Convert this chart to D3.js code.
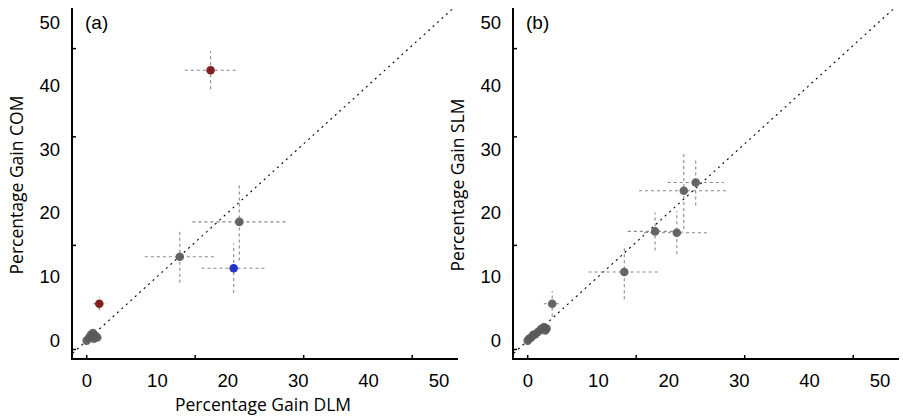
<!DOCTYPE html>
<html>
<head>
<meta charset="utf-8">
<script src="https://cdn.jsdelivr.net/npm/d3@7"></script>
<style>
  body { margin: 0; background: #fff; }
  svg { display: block; }
</style>
</head>
<body>
<svg id="chart" width="903" height="420"></svg>
<script>
// tick labels and (odd) inward tick mark positions
var tickLabels = [0, 10, 20, 30, 40, 50];
var xTickMarks = [0, 15.5, 31, 46.5];
var yTickMarks = [-1.4, 15.0, 32.1, 46.0];

// panel (a): DLM vs COM
var comX    = [0.0, 0.3, 0.6, 0.9, 1.2, 1.0, 1.5, 1.8, 17.7, 13.3, 21.8, 21.0];
var comY    = [0.0, 0.4, 0.9, 1.2, 0.8, 0.3, 0.5, 5.8, 42.6, 13.2, 18.7, 11.4];
var comXErr = [0.3, 0.4, 0.3, 0.5, 0.6, 0.4, 0.6, 0.9, 3.7, 5.0, 6.7, 4.6];
var comYErr = [0.3, 0.3, 0.4, 0.4, 0.3, 0.3, 0.4, 1.0, 3.0, 4.1, 6.1, 3.9];
var comGroup = ['g', 'g', 'g', 'g', 'g', 'g', 'g', 'r', 'r', 'g', 'g', 'b'];

// panel (b): DLM vs SLM
var slmX    = [0.0, 0.2, 0.5, 0.8, 1.1, 1.5, 1.9, 2.3, 2.7, 2.5, 3.5, 13.8, 18.2, 21.3, 22.3, 24.0];
var slmY    = [0.0, 0.3, 0.5, 0.9, 1.0, 1.4, 1.8, 2.1, 1.9, 1.6, 5.8, 10.8, 17.2, 17.0, 23.6, 24.9];
var slmXErr = [0.3, 0.3, 0.4, 0.4, 0.5, 0.5, 0.6, 0.7, 0.8, 0.6, 1.2, 5.1, 3.9, 4.7, 6.4, 4.0];
var slmYErr = [0.3, 0.3, 0.3, 0.4, 0.4, 0.5, 0.5, 0.6, 0.6, 0.5, 2.0, 4.3, 3.0, 3.4, 6.0, 3.6];
var slmGroup = ['g', 'g', 'g', 'g', 'g', 'g', 'g', 'g', 'g', 'g', 'g', 'g', 'g', 'g', 'g', 'g'];

var colors = { g: '#5a5a5a', r: '#7a0e0e', b: '#1226c4' };

var svg = d3.select('#chart');

function panel(opts) {
  var x = d3.scaleLinear().domain([-2.1, 52.9]).range([opts.left, opts.left + 385]);
  var y = d3.scaleLinear().domain([-2.9, 52.4]).range([359, 8]);
  var g = svg.append('g');

  // diagonal y = x
  g.append('line')
    .attr('x1', x(-2)).attr('y1', y(-2))
    .attr('x2', x(52.5)).attr('y2', y(52.5))
    .attr('stroke', '#000').attr('stroke-width', 1.1)
    .attr('stroke-dasharray', '2,4');

  var pts = opts.xs.map(function(v, i) {
    return { x: v, y: opts.ys[i], ex: opts.xe[i], ey: opts.ye[i], grp: opts.grp[i] };
  });

  // error bars
  g.selectAll('.eh').data(pts).enter().append('line')
    .attr('x1', d => x(d.x - d.ex)).attr('x2', d => x(d.x + d.ex))
    .attr('y1', d => y(d.y)).attr('y2', d => y(d.y))
    .attr('stroke', '#888').attr('stroke-width', 1.1)
    .attr('stroke-dasharray', '3,3');
  g.selectAll('.ev').data(pts).enter().append('line')
    .attr('x1', d => x(d.x)).attr('x2', d => x(d.x))
    .attr('y1', d => y(d.y - d.ey)).attr('y2', d => y(d.y + d.ey))
    .attr('stroke', '#888').attr('stroke-width', 1.1)
    .attr('stroke-dasharray', '3,3');

  g.selectAll('circle').data(pts).enter().append('circle')
    .attr('cx', d => x(d.x)).attr('cy', d => y(d.y))
    .attr('r', 4.3)
    .attr('fill', d => colors[d.grp])
    .attr('fill-opacity', 0.92);

  // axes lines
  g.append('line')
    .attr('x1', opts.left).attr('x2', opts.left)
    .attr('y1', 8).attr('y2', 359)
    .attr('stroke', '#000').attr('stroke-width', 2);
  g.append('line')
    .attr('x1', opts.left - 1).attr('x2', opts.left + 386)
    .attr('y1', 359).attr('y2', 359)
    .attr('stroke', '#000').attr('stroke-width', 2);

  // inward tick marks
  g.selectAll('.xt').data(xTickMarks).enter().append('line')
    .attr('x1', d => x(d)).attr('x2', d => x(d))
    .attr('y1', 359).attr('y2', 355)
    .attr('stroke', '#000').attr('stroke-width', 1.5);
  g.selectAll('.yt').data(yTickMarks).enter().append('line')
    .attr('x1', opts.left).attr('x2', opts.left + 4)
    .attr('y1', d => y(d)).attr('y2', d => y(d))
    .attr('stroke', '#000').attr('stroke-width', 1.5);

  // tick labels
  var xl = d3.scaleLinear().domain([0, 50]).range([opts.left + 15, opts.left + 367]);
  var yl = d3.scaleLinear().domain([0, 50]).range([340, 22]);
  g.selectAll('.xl').data(tickLabels).enter().append('text')
    .attr('x', d => xl(d)).attr('y', 387)
    .attr('text-anchor', 'middle')
    .style('font-family', 'Liberation Sans, Arial, sans-serif')
    .style('font-size', '18.5px')
    .text(d => d);
  g.selectAll('.yl').data(tickLabels).enter().append('text')
    .attr('x', opts.left - 12).attr('y', d => yl(d) + 6.5)
    .attr('text-anchor', 'end')
    .style('font-family', 'Liberation Sans, Arial, sans-serif')
    .style('font-size', '18.5px')
    .text(d => d);

  // panel tag
  g.append('text')
    .attr('x', opts.left + 13).attr('y', 29)
    .style('font-family', 'Liberation Sans, Arial, sans-serif')
    .style('font-size', '19px')
    .text(opts.tag);

  // y title
  g.append('text')
    .attr('transform', 'translate(' + (opts.left - 49) + ',185) rotate(-90)')
    .attr('text-anchor', 'middle')
    .style('font-family', 'Open Sans, Noto Sans, sans-serif')
    .style('font-size', '17.5px')
    .text(opts.ytitle);

  if (opts.xtitle) {
    g.append('text')
      .attr('x', opts.left + 191).attr('y', 411)
      .attr('text-anchor', 'middle')
      .style('font-family', 'Open Sans, Noto Sans, sans-serif')
      .style('font-size', '17.5px')
      .text(opts.xtitle);
  }
}

panel({ left: 72, xs: comX, ys: comY, xe: comXErr, ye: comYErr, grp: comGroup,
        tag: '(a)', ytitle: 'Percentage Gain COM', xtitle: 'Percentage Gain DLM' });
panel({ left: 513, xs: slmX, ys: slmY, xe: slmXErr, ye: slmYErr, grp: slmGroup,
        tag: '(b)', ytitle: 'Percentage Gain SLM', xtitle: null });
</script>
</body>
</html>
